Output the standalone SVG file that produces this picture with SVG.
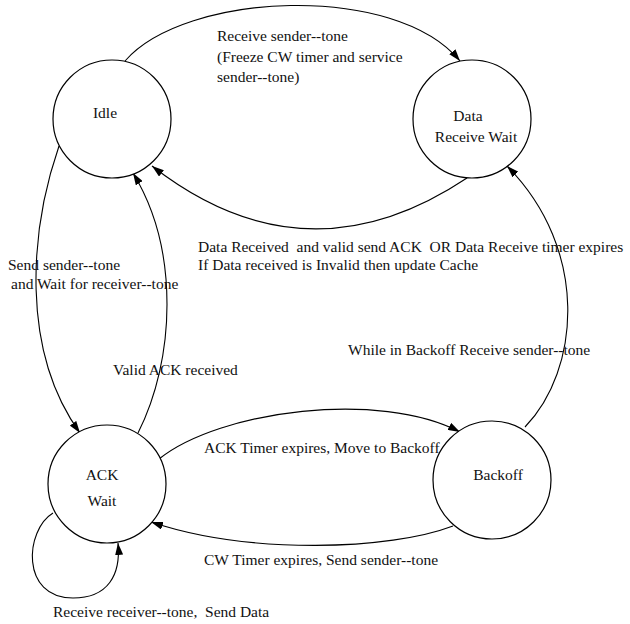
<svg xmlns="http://www.w3.org/2000/svg" width="630" height="624" viewBox="0 0 630 624">
<defs>
<marker id="arr" viewBox="0 0 12 8" refX="12" refY="4" markerWidth="12" markerHeight="8" markerUnits="userSpaceOnUse" orient="auto">
<path d="M0,0 L12,4 L0,8 Z" fill="#000"/>
</marker>
<style>
.node{fill:#fff;stroke:#000;stroke-width:1.2}
.edge{fill:none;stroke:#000;stroke-width:1.1}
text{font-family:"Liberation Serif","DejaVu Serif",serif;font-size:15.5px;fill:#111}
.c{text-anchor:middle}
</style>
</defs>
<rect width="630" height="624" fill="#fff"/>
<g id="connectors">
<path class="edge" d="M125,61 C185,-8 395,-18 460,61" marker-end="url(#arr)"/>
<path class="edge" d="M467,178 C347,258 242,236 152,166" marker-end="url(#arr)"/>
<path class="edge" d="M59,146 C30,230 20,350 80,433" marker-end="url(#arr)"/>
<path class="edge" d="M138,433 C175,360 180,250 133,173" marker-end="url(#arr)"/>
<path class="edge" d="M159,459 C220,410 380,390 460,432" marker-end="url(#arr)"/>
<path class="edge" d="M453,526 C390,550 250,555 151,522" marker-end="url(#arr)"/>
<path class="edge" d="M525,427 C580,370 590,250 507,166" marker-end="url(#arr)"/>
<path class="edge" d="M53,513 C25,530 20,598 73,598 C108,598 121,575 118,543" marker-end="url(#arr)"/>
</g>
<g id="idle"><circle class="node" cx="112" cy="119" r="59"/><text class="c" x="105" y="118">Idle</text></g>
<g id="data-receive-wait"><circle class="node" cx="472" cy="119" r="59"/><text class="c" x="468" y="121">Data</text><text class="c" x="476" y="142">Receive Wait</text></g>
<g id="ack-wait"><circle class="node" cx="107" cy="484" r="59"/><text class="c" x="102" y="480">ACK</text><text class="c" x="102" y="506">Wait</text></g>
<g id="backoff"><circle class="node" cx="492" cy="480" r="59"/><text class="c" x="498" y="480">Backoff</text></g>
<g id="labels">
<text x="217" y="41">Receive sender--tone</text>
<text x="217" y="62">(Freeze CW timer and service</text>
<text x="217" y="82">sender--tone)</text>
<text x="198" y="252" xml:space="preserve">Data Received  and valid send ACK  OR Data Receive timer expires</text>
<text x="198" y="270">If Data received is Invalid then update Cache</text>
<text x="8" y="270">Send sender--tone</text>
<text x="11" y="289">and Wait for receiver--tone</text>
<text x="113" y="375">Valid ACK received</text>
<text x="348" y="355">While in Backoff Receive sender--tone</text>
<text x="204" y="453">ACK Timer expires, Move to Backoff</text>
<text x="204" y="565">CW Timer expires, Send sender--tone</text>
<text x="53" y="617" xml:space="preserve">Receive receiver--tone,  Send Data</text>
</g>
</svg>
